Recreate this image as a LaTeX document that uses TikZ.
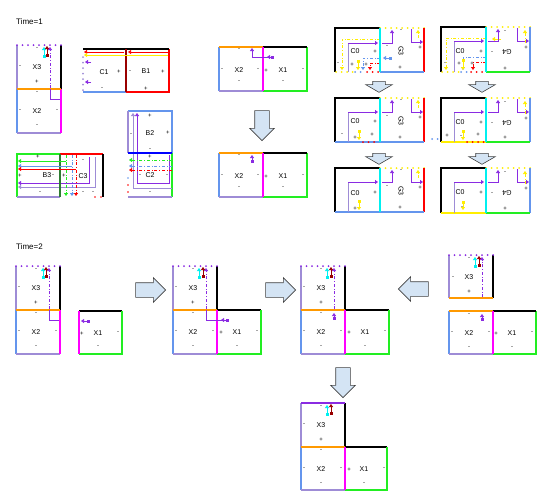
\documentclass[tikz,border=0pt]{standalone}
\usepackage{fontspec}
\setmainfont{Liberation Sans}
\usetikzlibrary{arrows.meta, shapes.arrows, positioning}
\definecolor{lav}{HTML}{9E8CD6}
\definecolor{pur}{HTML}{8A2BE2}
\definecolor{cfb}{HTML}{6495ED}
\definecolor{org}{HTML}{FF9900}
\definecolor{mag}{HTML}{FF00FF}
\definecolor{lim}{HTML}{22EE22}
\definecolor{cyn}{HTML}{00F0F0}
\definecolor{drd}{HTML}{990000}
\definecolor{ylw}{HTML}{FFEE00}
\definecolor{dgr}{HTML}{2E7D32}
\definecolor{blkfill}{HTML}{D4E4F4}

\begin{document}
\begin{tikzpicture}[x=1pt, y=-1pt,
        lbl/.style={font=\fontsize{7}{8}\selectfont, inner sep=0pt},
        sgn/.style={font=\fontsize{6}{6}\selectfont, inner sep=0pt},
        timelbl/.style={font=\fontsize{8}{9}\selectfont, inner sep=0pt, anchor=west},
        rim/.style={line width=1.6pt},
        ptr/.style={line width=0.8pt, -{Triangle[length=3pt,width=4pt]}},
        sqptr/.style={line width=0.8pt, {Square[length=3pt,width=3pt]}-{Triangle[length=3pt,width=4pt]}},
        dd/.style={dash dot, line width=0.8pt},
        dotline/.style={line width=2pt, line cap=round, dash pattern=on 0pt off 5.5pt},
        bigarrow/.style={single arrow, draw=black!75, fill=blkfill, line width=0.6pt,
            inner xsep=0pt, inner ysep=7pt, minimum height=30pt, single arrow head extend=5pt},
        smallarrow/.style={bigarrow, inner ysep=6pt, minimum height=11pt,
            single arrow head extend=7pt, single arrow tip angle=120}
    ]
        \useasboundingbox (0,0) rectangle (552,501);

        % ---------------- Time=1 ----------------
        \node[timelbl] (t1) at (16,22) {Time=1};

        % X3 over X2
        \begin{scope}[shift={(17,45)}]
            \draw[rim, lav] (0,0) -- (0,44);
            \draw[rim] (44,0) -- (44,44);
            \draw[dotline, pur] (0,0) -- (44,0);
            \draw[rim, cfb] (0,44) -- (0,88);
            \draw[rim, lav] (0,88) -- (44,88);
            \draw[rim, mag] (44,44) -- (44,88);
            \draw[rim, org] (0,44) -- (44,44);
            \draw[dd, pur, ptr] (33,43) -- (33,2);
            \draw[line width=0.8pt, pur] (33,44) -- (33,54) -- (43,54);
            \draw[sqptr, cyn] (27,13) -- (27,2);
            \draw[sqptr, drd] (30,12) -- (30,1);
            \node[lbl] (a_x3) at (20,22) {X3};
            \node[sgn] (a_x3t) at (20,4) {-};
            \node[sgn] (a_x3l) at (3,22) {-};
            \node[sgn] (a_x3b) at (20,37) {+};
            \node[lbl] (a_x2) at (20,66) {X2};
            \node[sgn] (a_x2t) at (20,48) {-};
            \node[sgn] (a_x2l) at (3,66) {-};
            \node[sgn] (a_x2r) at (40,66) {-};
            \node[sgn] (a_x2b) at (20,81) {-};
        \end{scope}

        % C1 and B1
        \draw[rim, red] (126,92) -- (169,92) -- (169,49);
        \draw[rim] (83,49) -- (169,49);
        \draw[rim, cfb] (83,92) -- (126,92);
        \draw[rim, drd] (126,49) -- (126,92);
        \draw[dotline, lav] (83,57) -- (83,92);
        \draw[ptr, red] (168,52) -- (128,52);
        \draw[ptr, red] (124,52) -- (84,52);
        \draw[ptr, ylw] (168,55) -- (84,55);
        \draw[ptr, pur] (91,62) -- (85,62);
        \draw[ptr, pur] (91,82) -- (85,82);
        \node[lbl] (c1) at (104,72) {C1};
        \node[sgn] (c1r) at (119,72) {+};
        \node[sgn] (c1b) at (102,89) {-};
        \node[lbl] (b1) at (146,71) {B1};
        \node[sgn] (b1l) at (130,72) {-};
        \node[sgn] (b1r) at (163,72) {+};
        \node[sgn] (b1b) at (146,89) {+};

        % B2 and C2
        \draw[rim, cfb] (128,111) -- (172,111) -- (172,153);
        \draw[rim, lav] (128,111) -- (128,153);
        \draw[rim, lim] (172,153) -- (172,197);
        \draw[rim, lav] (128,197) -- (172,197);
        \draw[ptr, lav] (172,188) -- (133,188) -- (133,113);
        \draw[ptr, pur] (169,155) -- (169,183) -- (137,183) -- (137,113);
        \draw[rim, blue] (128,153) -- (172,153);
        \draw[dd, lim, ptr] (172,160) -- (129,160);
        \draw[dd, cfb, ptr] (172,166) -- (129,166);
        \draw[dd, red, ptr] (172,170) -- (129,170);
        \fill[cfb] (128,178) circle (0.9);
        \fill[red] (128,185) circle (0.9);
        \fill[red] (128,192) circle (0.9);
        \node[lbl] (b2) at (150,133) {B2};
        \node[sgn] (b2t) at (150,116) {+};
        \node[sgn] (b2r) at (168,133) {+};
        \node[sgn] (b2l) at (131,135) {-};
        \node[sgn] (b2b) at (150,150) {-};
        \node[lbl] (c2) at (150,175) {C2};
        \node[sgn] (c2t) at (150,157) {+};
        \node[sgn] (c2l) at (140,176) {-};
        \node[sgn] (c2r) at (167,176) {-};
        \node[sgn] (c2b) at (150,193) {-};

        % B3 and C3
        \draw[rim, lim] (17,197) -- (17,154) -- (60,154);
        \draw[rim, lav] (17,197) -- (60,197);
        \draw[rim, red] (60,154) -- (103,154);
        \draw[rim] (103,154) -- (103,197);
        \draw[ptr, pur] (89,157) -- (89,183) -- (18,183);
        \draw[ptr, lav] (95,157) -- (95,187) -- (18,187);
        \draw[rim, dgr] (60,154) -- (60,197);
        \draw[dd, lim, ptr] (66,155) -- (66,196);
        \draw[dd, cfb, ptr] (72,155) -- (72,196);
        \draw[dd, red, ptr] (76,155) -- (76,196);
        \draw[ptr, lim] (66,161) -- (18,161);
        \draw[ptr, cfb] (72,166) -- (18,166);
        \draw[ptr, red] (76,169) -- (18,169);
        \fill[red] (95,197) circle (0.9);
        \fill[red] (101,197) circle (0.9);
        \node[lbl] (b3) at (47,175) {B3};
        \node[sgn] (b3t) at (38,157) {+};
        \node[sgn] (b3l) at (20,176) {+};
        \node[sgn] (b3r) at (53,176) {-};
        \node[sgn] (b3b) at (40,193) {-};
        \node[lbl] (c3) at (83,176) {C3};
        \node[sgn] (c3t) at (83,161) {-};
        \node[sgn] (c3l) at (64,176) {+};
        \node[sgn] (c3b) at (83,193) {-};
        \node[sgn] (c3bb) at (93,193) {-};

        % X2 and X1, before
        \begin{scope}[shift={(219,3)}]
            \draw[rim, cfb] (0,44) -- (0,88);
            \draw[rim, lav] (0,88) -- (44,88);
            \draw[rim, lim] (44,88) -- (88,88) -- (88,44);
            \draw[rim] (44,44) -- (88,44);
            \draw[rim, org] (0,44) -- (44,44);
            \draw[rim, mag] (44,44) -- (44,88);
            \draw[line width=0.8pt, pur] (33,54) -- (55,54);
            \draw[ptr, pur] (33,54) -- (33,45);
            \draw[sqptr, pur] (55,54) -- (48,54);
            \node[lbl] (m1_x2) at (20,67) {X2};
            \node[sgn] (m1_x2t) at (20,47) {-};
            \node[sgn] (m1_x2l) at (3,67) {-};
            \node[sgn] (m1_x2r) at (39,67) {-};
            \node[sgn] (m1_x2b) at (20,79) {-};
            \node[lbl] (m1_x1) at (64,67) {X1};
            \node[sgn] (m1_x1l) at (47,68) {+};
            \node[sgn] (m1_x1r) at (84,67) {-};
            \node[sgn] (m1_x1b) at (64,79) {-};
        \end{scope}
        \node[bigarrow, rotate=-90] (down1) at (262,122) {};

        % X2 and X1, after
        \begin{scope}[shift={(219,109)}]
            \draw[rim, cfb] (0,44) -- (0,88);
            \draw[rim, lav] (0,88) -- (44,88);
            \draw[rim, lim] (44,88) -- (88,88) -- (88,44);
            \draw[rim] (44,44) -- (88,44);
            \draw[rim, org] (0,44) -- (44,44);
            \draw[rim, mag] (44,44) -- (44,88);
            \draw[sqptr, pur] (33,54) -- (33,46);
            \node[lbl] (m2_x2) at (20,67) {X2};
            \node[sgn] (m2_x2t) at (20,47) {-};
            \node[sgn] (m2_x2l) at (3,67) {-};
            \node[sgn] (m2_x2r) at (39,67) {-};
            \node[sgn] (m2_x2b) at (20,79) {-};
            \node[lbl] (m2_x1) at (64,67) {X1};
            \node[sgn] (m2_x1l) at (47,68) {+};
            \node[sgn] (m2_x1r) at (84,67) {-};
            \node[sgn] (m2_x1b) at (64,79) {-};
        \end{scope}

        % C0 and G3, step 1
        \begin{scope}[shift={(335,28)}]
            \draw[rim] (45,0) -- (0,0) -- (0,44);
            \draw[dotline, ylw] (45,0) -- (89,0);
            \draw[rim, red] (89,0) -- (89,44);
            \draw[rim, cfb] (45,44) -- (89,44);
            \draw[dotline, ylw] (1,44) -- (18,44);
            \draw[dotline, cfb] (20,44) -- (30,44);
            \draw[dotline, red] (32,44) -- (44,44);
            \draw[dd, ylw, ptr] (45,11) -- (7,11) -- (7,42);
            \draw[dd, cfb, ptr] (45,30) -- (28,30) -- (28,42);
            \draw[dd, red, ptr] (45,35) -- (35,35) -- (35,42);
            \draw[sqptr, cfb] (57,30) -- (48,30);
            \draw[sqptr, ylw] (23,32) -- (23,42);
            \draw[line width=0.8pt, lav] (13,44) -- (13,15);
            \draw[ptr, pur] (13,15) -- (43,15);
            \draw[ptr, pur] (47,15) -- (57,15) -- (57,2);
            \draw[ptr, pur] (76,1) -- (76,14) -- (88,14);
            \draw[dd, ylw, ptr] (83,10) -- (83,2);
            \draw[rim, cyn, line width=2.5pt] (45,0) -- (45,44);
            \node[lbl] (s1_c0) at (20,23) {C0};
            \node[sgn] (s1_c0r) at (40,24) {+};
            \node[sgn] (s1_c0a) at (3,36) {-};
            \node[sgn] (s1_c0b) at (17,37) {+};
            \node[sgn] (s1_c0c) at (31,37) {+};
            \node[lbl, rotate=-90] (s1_g3) at (66,23) {G3};
            \node[sgn] (s1_g3l) at (52,19) {-};
            \node[sgn] (s1_g3t) at (66,3) {-};
            \node[sgn] (s1_g3r) at (85,20) {+};
            \node[sgn] (s1_g3b) at (65,40) {+};
        \end{scope}
        \node[smallarrow, rotate=-90] (g3down1) at (379,85) {};

        % C0 and G3, step 2
        \begin{scope}[shift={(335,98)}]
            \draw[rim] (45,0) -- (0,0) -- (0,44);
            \draw[dotline, ylw] (45,0) -- (89,0);
            \draw[rim, red] (89,0) -- (89,44);
            \draw[rim, cfb] (0,44) -- (89,44);
            \draw[dotline, red] (28,44) -- (44,44);
            \draw[sqptr, ylw] (24,32) -- (24,42);
            \draw[line width=0.8pt, lav] (13,44) -- (13,14);
            \draw[ptr, pur] (13,14) -- (43,14);
            \draw[ptr, pur] (47,14) -- (57,14) -- (57,2);
            \draw[ptr, pur] (76,1) -- (76,14) -- (88,14);
            \draw[dd, ylw, ptr] (83,10) -- (83,2);
            \draw[rim, cyn, line width=2.5pt] (45,0) -- (45,44);
            \node[lbl] (s2_c0) at (20,23) {C0};
            \node[sgn] (s2_c0r) at (40,24) {+};
            \node[sgn] (s2_c0a) at (7,37) {-};
            \node[sgn] (s2_c0b) at (20,40) {+};
            \node[sgn] (s2_c0c) at (37,37) {+};
            \node[lbl, rotate=-90] (s2_g3) at (66,23) {G3};
            \node[sgn] (s2_g3l) at (52,19) {-};
            \node[sgn] (s2_g3t) at (66,3) {-};
            \node[sgn] (s2_g3r) at (85,20) {+};
            \node[sgn] (s2_g3b) at (65,40) {+};
        \end{scope}
        \node[smallarrow, rotate=-90] (g3down2) at (379,157) {};

        % C0 and G3, step 3
        \begin{scope}[shift={(335,168)}]
            \draw[rim] (45,0) -- (0,0) -- (0,44);
            \draw[dotline, ylw] (45,0) -- (89,0);
            \draw[rim, red] (89,0) -- (89,44);
            \draw[rim, cfb] (0,44) -- (89,44);
            \draw[sqptr, ylw] (24,32) -- (24,42);
            \draw[line width=0.8pt, lav] (13,44) -- (13,14);
            \draw[ptr, pur] (13,14) -- (43,14);
            \draw[ptr, pur] (47,14) -- (57,14) -- (57,2);
            \draw[ptr, pur] (76,1) -- (76,14) -- (88,14);
            \draw[dd, ylw, ptr] (83,10) -- (83,2);
            \draw[rim, cyn, line width=2.5pt] (45,0) -- (45,44);
            \node[lbl] (s3_c0) at (20,25) {C0};
            \node[sgn] (s3_c0r) at (40,25) {+};
            \node[sgn] (s3_c0b) at (20,41) {+};
            \node[lbl, rotate=-90] (s3_g3) at (66,23) {G3};
            \node[sgn] (s3_g3l) at (52,19) {-};
            \node[sgn] (s3_g3t) at (66,3) {-};
            \node[sgn] (s3_g3r) at (85,20) {+};
            \node[sgn] (s3_g3b) at (65,40) {+};
        \end{scope}

        % C0 and G4, step 1
        \begin{scope}[shift={(441,27)}]
            \draw[rim] (45,0) -- (0,0) -- (0,45);
            \draw[dotline, ylw] (45,0) -- (89,0);
            \draw[rim, cfb] (89,0) -- (89,45);
            \draw[rim, lim] (45,45) -- (89,45);
            \draw[dotline, ylw] (1,45) -- (18,45);
            \draw[dotline, cfb] (20,45) -- (28,45);
            \draw[dotline, red] (30,45) -- (44,45);
            \draw[dd, ylw, ptr] (45,11) -- (5,11) -- (5,43);
            \draw[dd, cfb, ptr] (45,30) -- (22,30) -- (22,43);
            \draw[dd, red, ptr] (45,35) -- (32,35) -- (32,43);
            \draw[ptr, ylw] (60,12) -- (51,12);
            \draw[sqptr, ylw] (22,32) -- (22,43);
            \draw[line width=0.8pt, lav] (13,45) -- (13,14);
            \draw[ptr, pur] (13,14) -- (43,14);
            \draw[ptr, pur] (47,14) -- (57,14) -- (57,2);
            \draw[ptr, pur] (76,1) -- (76,14) -- (88,14);
            \draw[dd, ylw, ptr] (84,16) -- (84,3);
            \draw[rim, cyn, line width=2.5pt] (45,0) -- (45,45);
            \node[lbl] (u1_c0) at (19,24) {C0};
            \node[sgn] (u1_c0r) at (40,25) {+};
            \node[sgn] (u1_c0a) at (4,37) {-};
            \node[sgn] (u1_c0b) at (18,37) {+};
            \node[sgn] (u1_c0c) at (31,37) {+};
            \node[lbl, rotate=180] (u1_g4) at (66,25) {G4};
            \node[sgn] (u1_g4l) at (51,26) {-};
            \node[sgn] (u1_g4t) at (64,5) {-};
            \node[sgn] (u1_g4r) at (85,21) {+};
            \node[sgn] (u1_g4b) at (64,42) {+};
        \end{scope}
        \node[smallarrow, rotate=-90] (g4down1) at (482,85) {};

        % C0 and G4, step 2
        \begin{scope}[shift={(441,98)}]
            \draw[rim] (45,0) -- (0,0) -- (0,44);
            \draw[dotline, ylw] (45,0) -- (89,0);
            \draw[rim, cfb] (89,0) -- (89,44);
            \draw[rim, lim] (45,44) -- (89,44);
            \draw[rim, ylw] (0,44) -- (45,44);
            \draw[dotline, red] (26,44) -- (44,44);
            \draw[dotline, cfb] (-9,41) -- (0,41);
            \draw[sqptr, ylw] (22,32) -- (22,42);
            \draw[line width=0.8pt, lav] (13,44) -- (13,14);
            \draw[ptr, pur] (13,14) -- (43,14);
            \draw[ptr, pur] (47,14) -- (57,14) -- (57,2);
            \draw[ptr, pur] (76,1) -- (76,14) -- (88,14);
            \draw[dd, ylw, ptr] (84,16) -- (84,3);
            \draw[rim, cyn, line width=2.5pt] (45,0) -- (45,44);
            \node[lbl] (u2_c0) at (19,24) {C0};
            \node[sgn] (u2_c0r) at (40,25) {+};
            \node[sgn] (u2_c0a) at (6,38) {+};
            \node[sgn] (u2_c0b) at (20,39) {-};
            \node[sgn] (u2_c0c) at (37,37) {+};
            \node[lbl, rotate=180] (u2_g4) at (66,25) {G4};
            \node[sgn] (u2_g4l) at (51,26) {-};
            \node[sgn] (u2_g4t) at (64,5) {-};
            \node[sgn] (u2_g4r) at (85,21) {+};
            \node[sgn] (u2_g4b) at (64,40) {+};
        \end{scope}
        \node[smallarrow, rotate=-90] (g4down2) at (482,157) {};

        % C0 and G4, step 3
        \begin{scope}[shift={(441,168)}]
            \draw[rim] (45,0) -- (0,0) -- (0,45);
            \draw[dotline, ylw] (45,0) -- (89,0);
            \draw[rim, cfb] (89,0) -- (89,45);
            \draw[rim, lim] (45,45) -- (89,45);
            \draw[rim, ylw] (0,45) -- (45,45);
            \draw[sqptr, ylw] (22,33) -- (22,42);
            \draw[line width=0.8pt, lav] (13,45) -- (13,14);
            \draw[ptr, pur] (13,14) -- (43,14);
            \draw[ptr, pur] (47,14) -- (57,14) -- (57,2);
            \draw[ptr, pur] (76,1) -- (76,14) -- (88,14);
            \draw[dd, ylw, ptr] (84,16) -- (84,3);
            \draw[rim, cyn, line width=2.5pt] (45,0) -- (45,45);
            \node[lbl] (u3_c0) at (19,24) {C0};
            \node[sgn] (u3_c0r) at (40,25) {+};
            \node[sgn] (u3_c0b) at (21,40) {-};
            \node[lbl, rotate=180] (u3_g4) at (66,25) {G4};
            \node[sgn] (u3_g4l) at (51,26) {-};
            \node[sgn] (u3_g4t) at (64,5) {-};
            \node[sgn] (u3_g4r) at (85,21) {+};
            \node[sgn] (u3_g4b) at (64,41) {+};
        \end{scope}

        % ---------------- Time=2 ----------------
        \node[timelbl] (t2) at (16,247) {Time=2};

        % X3 over X2, X1 apart
        \begin{scope}[shift={(16,266)}]
            \draw[rim, lav] (0,0) -- (0,44);
            \draw[rim] (44,0) -- (44,44);
            \draw[dotline, pur] (0,0) -- (44,0);
            \draw[rim, cfb] (0,44) -- (0,88);
            \draw[rim, lav] (0,88) -- (44,88);
            \draw[rim, mag] (44,44) -- (44,88);
            \draw[rim, org] (0,44) -- (44,44);
            \draw[dd, pur, ptr] (33,43) -- (33,2);
            \draw[line width=0.8pt, pur] (33,44) -- (33,54) -- (43,54);
            \draw[sqptr, cyn] (27,13) -- (27,2);
            \draw[sqptr, drd] (30,12) -- (30,1);
            \node[lbl] (p1_x3) at (20,22) {X3};
            \node[sgn] (p1_x3t) at (20,4) {-};
            \node[sgn] (p1_x3l) at (3,22) {-};
            \node[sgn] (p1_x3b) at (20,37) {+};
            \node[lbl] (p1_x2) at (20,66) {X2};
            \node[sgn] (p1_x2t) at (20,48) {-};
            \node[sgn] (p1_x2l) at (3,66) {-};
            \node[sgn] (p1_x2r) at (40,66) {-};
            \node[sgn] (p1_x2b) at (20,81) {-};
        \end{scope}
        \begin{scope}[shift={(79,311)}]
            \draw[rim] (0,0) -- (43,0);
            \draw[rim, lim] (43,0) -- (43,43) -- (0,43);
            \draw[rim, mag] (0,0) -- (0,43);
            \draw[sqptr, pur] (11,10) -- (2,10);
            \node[lbl] (p1_x1) at (19,22) {X1};
            \node[sgn] (p1_x1l) at (3,23) {+};
            \node[sgn] (p1_x1r) at (39,22) {-};
            \node[sgn] (p1_x1b) at (19,36) {-};
        \end{scope}
        \node[bigarrow] (right1) at (147,290) {};

        % X3, X2 and X1 joined
        \begin{scope}[shift={(173,266)}]
            \draw[rim, lav] (0,0) -- (0,44);
            \draw[rim] (44,0) -- (44,44) -- (88,44);
            \draw[dotline, pur] (0,0) -- (44,0);
            \draw[rim, cfb] (0,44) -- (0,88);
            \draw[rim, lav] (0,88) -- (44,88);
            \draw[rim, lim] (44,88) -- (88,88) -- (88,44);
            \draw[rim, org] (0,44) -- (44,44);
            \draw[rim, mag] (44,44) -- (44,88);
            \draw[dd, pur, ptr] (33,43) -- (33,2);
            \draw[line width=0.8pt, pur] (33,44) -- (33,54) -- (56,54);
            \draw[sqptr, pur] (56,54) -- (48,54);
            \draw[sqptr, cyn] (26,13) -- (26,2);
            \draw[sqptr, drd] (30,12) -- (30,1);
            \node[lbl] (p2_x3) at (20,22) {X3};
            \node[sgn] (p2_x3t) at (20,4) {-};
            \node[sgn] (p2_x3l) at (3,22) {-};
            \node[sgn] (p2_x3b) at (20,37) {+};
            \node[lbl] (p2_x2) at (20,66) {X2};
            \node[sgn] (p2_x2t) at (20,48) {-};
            \node[sgn] (p2_x2l) at (3,66) {-};
            \node[sgn] (p2_x2r) at (40,66) {-};
            \node[sgn] (p2_x2b) at (20,81) {-};
            \node[lbl] (p2_x1) at (64,66) {X1};
            \node[sgn] (p2_x1l) at (48,67) {+};
            \node[sgn] (p2_x1r) at (84,66) {-};
            \node[sgn] (p2_x1b) at (64,81) {-};
        \end{scope}
        \node[bigarrow] (right2) at (277,290) {};

        % joined, pointer moved
        \begin{scope}[shift={(301,266)}]
            \draw[rim, lav] (0,0) -- (0,44);
            \draw[rim] (44,0) -- (44,44) -- (88,44);
            \draw[dotline, pur] (0,0) -- (44,0);
            \draw[rim, cfb] (0,44) -- (0,88);
            \draw[rim, lav] (0,88) -- (44,88);
            \draw[rim, lim] (44,88) -- (88,88) -- (88,44);
            \draw[rim, org] (0,44) -- (44,44);
            \draw[rim, mag] (44,44) -- (44,88);
            \draw[dd, pur, ptr] (33,43) -- (33,2);
            \draw[sqptr, pur] (33,54) -- (33,47);
            \draw[sqptr, cyn] (26,13) -- (26,2);
            \draw[sqptr, drd] (30,12) -- (30,1);
            \node[lbl] (p3_x3) at (20,22) {X3};
            \node[sgn] (p3_x3t) at (20,4) {-};
            \node[sgn] (p3_x3l) at (3,22) {-};
            \node[sgn] (p3_x3b) at (20,37) {+};
            \node[lbl] (p3_x2) at (20,66) {X2};
            \node[sgn] (p3_x2t) at (20,48) {-};
            \node[sgn] (p3_x2l) at (3,66) {-};
            \node[sgn] (p3_x2r) at (40,66) {-};
            \node[sgn] (p3_x2b) at (20,81) {-};
            \node[lbl] (p3_x1) at (64,66) {X1};
            \node[sgn] (p3_x1l) at (48,67) {+};
            \node[sgn] (p3_x1r) at (84,66) {-};
            \node[sgn] (p3_x1b) at (64,81) {-};
        \end{scope}
        \node[bigarrow, shape border rotate=180] (left1) at (417,289) {};

        % X3 apart, X2 and X1 joined
        \begin{scope}[shift={(449,255)}]
            \draw[rim, lav] (0,0) -- (0,43);
            \draw[rim] (44,0) -- (44,43);
            \draw[dotline, pur] (0,0) -- (44,0);
            \draw[rim, org] (0,43) -- (44,43);
            \draw[dd, pur, ptr] (33,42) -- (33,2);
            \draw[sqptr, cyn] (26,13) -- (26,2);
            \draw[sqptr, drd] (30,12) -- (30,1);
            \node[lbl] (p4_x3) at (20,22) {X3};
            \node[sgn] (p4_x3t) at (20,4) {-};
            \node[sgn] (p4_x3l) at (4,23) {-};
            \node[sgn] (p4_x3b) at (20,37) {+};
        \end{scope}
        \begin{scope}[shift={(449,267)}]
            \draw[rim, cfb] (0,44) -- (0,87);
            \draw[rim, lav] (0,87) -- (44,87);
            \draw[rim, lim] (44,87) -- (87,87) -- (87,44);
            \draw[rim] (44,44) -- (87,44);
            \draw[rim, org] (0,44) -- (44,44);
            \draw[rim, mag] (44,44) -- (44,87);
            \draw[sqptr, pur] (33,54) -- (33,47);
            \node[lbl] (p4_x2) at (20,66) {X2};
            \node[sgn] (p4_x2t) at (20,48) {-};
            \node[sgn] (p4_x2l) at (3,66) {-};
            \node[sgn] (p4_x2r) at (40,66) {-};
            \node[sgn] (p4_x2b) at (20,81) {-};
            \node[lbl] (p4_x1) at (63,66) {X1};
            \node[sgn] (p4_x1l) at (47,67) {+};
            \node[sgn] (p4_x1r) at (83,66) {-};
            \node[sgn] (p4_x1b) at (63,81) {-};
        \end{scope}
        \node[bigarrow, rotate=-90] (down2) at (343,379) {};

        % final state
        \begin{scope}[shift={(301,403)}]
            \draw[rim, lav] (0,0) -- (0,44);
            \draw[rim] (44,0) -- (44,44) -- (86,44);
            \draw[rim, pur] (0,0) -- (44,0);
            \draw[rim, cfb] (0,44) -- (0,87);
            \draw[rim, lav] (0,87) -- (44,87);
            \draw[rim, lim] (44,87) -- (86,87) -- (86,44);
            \draw[rim, org] (0,44) -- (44,44);
            \draw[rim, mag] (44,44) -- (44,87);
            \draw[sqptr, cyn] (26,13) -- (26,2);
            \draw[sqptr, drd] (30,12) -- (30,1);
            \node[lbl] (f_x3) at (20,22) {X3};
            \node[sgn] (f_x3t) at (20,4) {-};
            \node[sgn] (f_x3l) at (3,22) {-};
            \node[sgn] (f_x3b) at (20,37) {+};
            \node[lbl] (f_x2) at (20,66) {X2};
            \node[sgn] (f_x2t) at (20,48) {-};
            \node[sgn] (f_x2l) at (3,66) {-};
            \node[sgn] (f_x2r) at (40,66) {-};
            \node[sgn] (f_x2b) at (20,81) {-};
            \node[lbl] (f_x1) at (63,66) {X1};
            \node[sgn] (f_x1l) at (48,67) {+};
            \node[sgn] (f_x1r) at (83,66) {-};
            \node[sgn] (f_x1b) at (63,81) {-};
        \end{scope}

    \end{tikzpicture}
\end{document}
